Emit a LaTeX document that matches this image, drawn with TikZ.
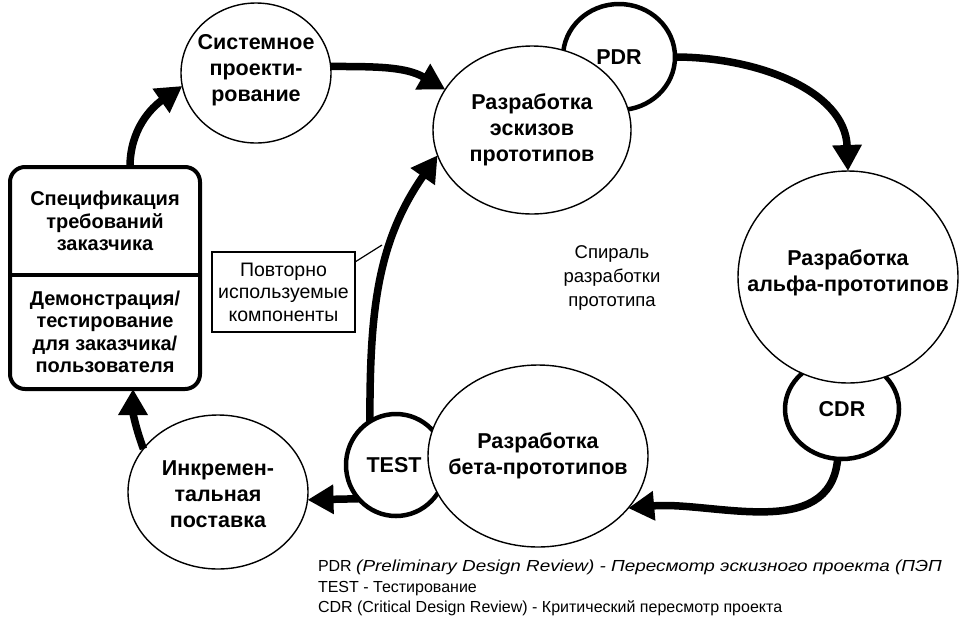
\documentclass[tikz,border=0pt]{standalone}
\usepackage{fontspec}
\setmainfont{Liberation Sans}
\newfontfamily\wideit{Liberation Sans}[FakeStretch=1.18]
\usetikzlibrary{arrows.meta,shapes.geometric}
\tikzset{
  every node/.style={inner sep=0pt, outer sep=0pt},
  thinell/.style={ellipse, draw, line width=1.4pt, fill=white},
  thickell/.style={ellipse, draw, line width=4.5pt, fill=white},
  lbl/.style={font=\bfseries\fontsize{21.5}{26}\selectfont, align=center},
  boxlbl/.style={font=\bfseries\fontsize{20}{22.5}\selectfont, align=center},
  plain/.style={font=\fontsize{19.5}{22.5}\selectfont, align=center},
  arr/.style={line width=7.5pt, -{Triangle[length=26pt,width=28pt]}},
}
\begin{document}
\begin{tikzpicture}[x=1pt,y=-1pt]
\fill[white] (0,0) rectangle (960,625);
\useasboundingbox (0,0) rectangle (960,625);

% review circles behind the big ellipses
\node[thickell, minimum width=112pt, minimum height=106pt] (pdr) at (619,57) {};
\node[thinell, minimum width=198pt, minimum height=168pt] (esk) at (532,130) {};
\node[thickell, minimum width=114pt, minimum height=100pt] (cdr) at (842,409) {};
\node[thinell, minimum width=220pt, minimum height=212pt] (alpha) at (848,277) {};
\node[thickell, minimum width=100pt, minimum height=102pt] (test) at (396,465) {};
\node[thinell, minimum width=220pt, minimum height=182pt] (beta) at (538,456) {};
\node[thinell, minimum width=150pt, minimum height=140pt] (sys) at (256,73) {};
\node[thinell, minimum width=180pt, minimum height=154pt] (ink) at (218,492) {};

% left box
\node[draw, line width=4pt, rounded corners=15pt, minimum width=190pt, minimum height=222pt] (box) at (105,278) {};
\node[boxlbl, minimum width=190pt, minimum height=108pt] (spec) at (105,221) {Спецификация\\требований\\заказчика};
\node[boxlbl, minimum width=190pt, minimum height=114pt] (demo) at (105,332) {Демонстрация/\\тестирование\\для заказчика/\\пользователя};
\draw[line width=4pt] (spec.south west) -- (spec.south east);

% reusable components box
\node[draw, line width=1.2pt, plain, minimum width=143pt, minimum height=80pt] (reuse) at (283.5,292) {Повторно\\используемые\\компоненты};

% labels
\node[lbl] (pdrt) at (pdr) {PDR};
\node[lbl] (cdrt) at (cdr) {CDR};
\node[lbl] (testt) at ([xshift=-2pt]test.center) {TEST};
\node[lbl] (eskt) at (esk) {Разработка\\эскизов\\прототипов};
\node[lbl] (alphat) at ([yshift=4pt]alpha.center) {Разработка\\альфа-прототипов};
\node[lbl] (betat) at (beta) {Разработка\\бета-прототипов};
\node[lbl] (syst) at ([yshift=3pt]sys.center) {Системное\\проекти-\\рование};
\node[lbl] (inkt) at ([yshift=-2pt]ink.center) {Инкремен-\\тальная\\поставка};
\node[plain, font=\fontsize{18.5}{24}\selectfont] (spiral) at (612,278) {Спираль\\разработки\\прототипа};

% legend
\node[anchor=north west, align=left, font=\fontsize{16}{20.5}\selectfont] (legend) at (318,560)
  {PDR {\wideit\itshape (Preliminary Design Review) - Пересмотр эскизного проекта (ПЭП}\\
   TEST - Тестирование\\
   CDR (Critical Design Review) - Критический пересмотр проекта};

% connectors
\draw[arr] ([xshift=25pt]box.north) to[out=90,in=215] (sys.190);
\draw[arr] (sys.5) to[out=0,in=150] (esk.155);
\draw[arr] (pdr.east) to[out=0,in=92] (alpha.north);
\draw[arr] (cdr.-95) to[out=-95,in=5] (beta.-30);
\draw[arr] (test.222) -- (ink.-5);
\draw[arr] (ink.150) to[out=110,in=-90] ([xshift=28pt]box.south);
\draw[arr] (test.121) to[out=90,in=235] (esk.195);
\coordinate (rc) at (382,245);
\draw[line width=1.2pt] ([yshift=-10pt]reuse.north east) -- (rc);
\end{tikzpicture}
\end{document}
